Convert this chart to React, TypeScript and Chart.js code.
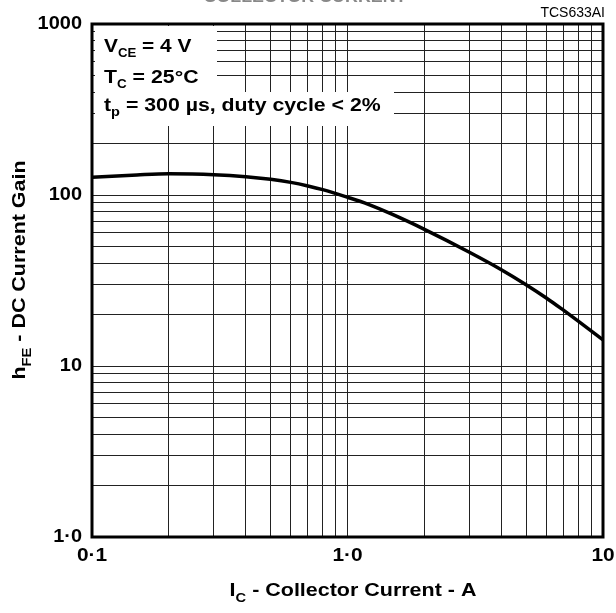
import React, { useEffect, useRef } from 'react';
import { Chart, registerables } from 'chart.js';

Chart.register(...registerables);

// Collector current (A) and DC current gain
const currentA = [0.1, 0.15, 0.2, 0.3, 0.4, 0.5, 0.6, 0.7, 0.8, 1.0, 1.2, 1.5, 2, 3, 4, 5, 6, 7, 8, 10];
const gain = [127, 131, 133, 131.5, 128, 123.5, 118.5, 113, 107.5, 97, 88.5, 77, 63, 46.3, 36.6, 29.9, 25.0, 21.2, 18.3, 14.2];

// Grid lines (log decades with 1..9 subdivisions)
const xGridTicks = [0.1, 0.2, 0.3, 0.4, 0.5, 0.6, 0.7, 0.8, 0.9, 1, 2, 3, 4, 5, 6, 7, 8, 9, 10];
const yGridTicks = [1, 2, 3, 4, 5, 6, 7, 8, 9, 10, 20, 30, 40, 50, 60, 70, 80, 90, 100, 200, 300, 400, 500, 600, 700, 800, 900, 1000];

// Tick labels
const xLabelValues = [0.1, 1, 10];
const xLabelTexts = ['0\u00B71', '1\u00B70', '10'];
const yLabelValues = [1, 10, 100, 1000];
const yLabelTexts = ['1\u00B70', '10', '100', '1000'];

const FONT = '"Liberation Sans", Arial, sans-serif';

type Run = { t: string; sub?: boolean };

function runsWidth(ctx: CanvasRenderingContext2D, runs: Run[], size: number, subSize: number) {
  let w = 0;
  for (const r of runs) {
    ctx.font = `bold ${r.sub ? subSize : size}px ${FONT}`;
    w += ctx.measureText(r.t).width;
  }
  return w;
}

function drawRuns(
  ctx: CanvasRenderingContext2D,
  x: number,
  y: number,
  runs: Run[],
  size: number,
  subSize: number,
  subDy: number,
  align: 'left' | 'center',
  sx: number
) {
  ctx.save();
  ctx.translate(x, y);
  ctx.scale(sx, 1);
  let cx = 0;
  if (align === 'center') cx = -runsWidth(ctx, runs, size, subSize) / 2;
  ctx.textAlign = 'left';
  ctx.textBaseline = 'alphabetic';
  for (const r of runs) {
    ctx.font = `bold ${r.sub ? subSize : size}px ${FONT}`;
    ctx.fillText(r.t, cx, r.sub ? subDy : 0);
    cx += ctx.measureText(r.t).width;
  }
  ctx.restore();
}

function drawText(
  ctx: CanvasRenderingContext2D,
  text: string,
  x: number,
  y: number,
  font: string,
  align: CanvasTextAlign,
  baseline: CanvasTextBaseline,
  sx: number
) {
  ctx.save();
  ctx.translate(x, y);
  ctx.scale(sx, 1);
  ctx.font = font;
  ctx.textAlign = align;
  ctx.textBaseline = baseline;
  ctx.fillText(text, 0, 0);
  ctx.restore();
}

const decor = {
  id: 'decor',
  beforeDatasetsDraw(chart: any) {
    const ctx: CanvasRenderingContext2D = chart.ctx;
    const a = chart.chartArea;
    ctx.save();
    ctx.fillStyle = '#fff';
    ctx.fillRect(a.left + 3, a.top + 2, 217 - (a.left + 3), 92 - (a.top + 2));
    ctx.fillRect(a.left + 3, 92, 394 - (a.left + 3), 126 - 92);
    ctx.fillStyle = '#000';
    drawRuns(ctx, a.left + 12, 52, [{ t: 'V' }, { t: 'CE', sub: true }, { t: ' = 4 V' }], 19, 12, 5, 'left', 1.1);
    drawRuns(ctx, a.left + 12, 83, [{ t: 'T' }, { t: 'C', sub: true }, { t: ' = 25\u00B0C' }], 19, 12, 5, 'left', 1.12);
    drawRuns(ctx, a.left + 12, 111, [{ t: 't' }, { t: 'p', sub: true }, { t: ' = 300 \u00B5s, duty cycle < 2%' }], 19, 13, 5, 'left', 1.12);
    ctx.restore();
  },
  afterDraw(chart: any) {
    const ctx: CanvasRenderingContext2D = chart.ctx;
    const a = chart.chartArea;
    const xs = chart.scales.x;
    const ys = chart.scales.y;
    ctx.save();
    // frame
    ctx.strokeStyle = '#000';
    ctx.lineWidth = 3;
    ctx.strokeRect(a.left, a.top, a.right - a.left, a.bottom - a.top);

    ctx.fillStyle = '#000';
    // y tick labels
    yLabelValues.forEach((v, i) => {
      drawText(ctx, yLabelTexts[i], a.left - 10, ys.getPixelForValue(v), `bold 19px ${FONT}`, 'right', 'middle', 1.05);
    });
    // x tick labels
    xLabelValues.forEach((v, i) => {
      drawText(ctx, xLabelTexts[i], xs.getPixelForValue(v), a.bottom + 19, `bold 19px ${FONT}`, 'center', 'middle', 1.1);
    });
    // x title
    drawRuns(ctx, 353, 596, [{ t: 'I' }, { t: 'C', sub: true }, { t: ' - Collector Current - A' }], 19, 13, 6, 'center', 1.13);
    // y title
    ctx.save();
    ctx.translate(25, 270);
    ctx.rotate(-Math.PI / 2);
    drawRuns(ctx, 0, 0, [{ t: 'h' }, { t: 'FE', sub: true }, { t: ' - DC Current Gain' }], 19, 13, 6, 'center', 1.13);
    ctx.restore();
    // figure id
    drawText(ctx, 'TCS633AI', a.right + 2, 17, `14px ${FONT}`, 'right', 'alphabetic', 1);
    // cut-off title at very top (only its lowest edge is visible)
    ctx.fillStyle = '#888';
    drawText(ctx, 'COLLECTOR CURRENT', 305, 1.5, `bold 17px ${FONT}`, 'center', 'alphabetic', 1.05);
    ctx.restore();
  },
};

export default function App() {
  const ref = useRef<HTMLCanvasElement>(null);
  useEffect(() => {
    if (!ref.current) return;
    const chart = new Chart(ref.current, {
      type: 'line',
      data: {
        datasets: [
          {
            data: currentA.map((x, i) => ({ x, y: gain[i] })),
            borderColor: '#000',
            borderWidth: 3.5,
            pointRadius: 0,
            fill: false,
            cubicInterpolationMode: 'monotone',
          },
        ],
      },
      options: {
        responsive: false,
        animation: false,
        devicePixelRatio: 1,
        layout: { padding: { left: 92, right: 13, top: 24, bottom: 76 } },
        plugins: { legend: { display: false }, title: { display: false }, tooltip: { enabled: false } },
        scales: {
          x: {
            type: 'logarithmic',
            min: 0.1,
            max: 10,
            afterBuildTicks: (ax: any) => {
              ax.ticks = xGridTicks.map((v) => ({ value: v }));
            },
            ticks: { display: false },
            grid: { color: '#222', lineWidth: 1, drawTicks: false },
            border: { display: false },
          },
          y: {
            type: 'logarithmic',
            min: 1,
            max: 1000,
            afterBuildTicks: (ax: any) => {
              ax.ticks = yGridTicks.map((v) => ({ value: v }));
            },
            ticks: { display: false },
            grid: { color: '#222', lineWidth: 1, drawTicks: false },
            border: { display: false },
          },
        },
      } as any,
      plugins: [decor],
    });
    return () => chart.destroy();
  }, []);
  return (
    <div style={{ position: 'absolute', left: 0, top: 0, width: 616, height: 613, background: '#fff' }}>
      <canvas ref={ref} width={616} height={613} style={{ display: 'block', width: 616, height: 613 }} />
    </div>
  );
}
